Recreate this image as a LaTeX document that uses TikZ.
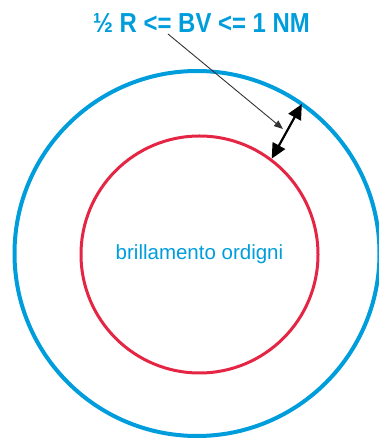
\documentclass[tikz,border=0pt]{standalone}
\usepackage{fontspec}
\setmainfont{Liberation Sans}
\newfontfamily\narrowfont[FakeStretch=0.87]{Liberation Sans}
\usetikzlibrary{arrows.meta}
\definecolor{zonablu}{RGB}{0,157,220}
\definecolor{zonarossa}{RGB}{228,38,68}

\begin{document}
\begin{tikzpicture}[x=1pt,y=1pt,
    ring/.style={circle,draw,inner sep=0pt},
    leader/.style={gray!40!black,line width=0.9pt,-{Triangle[length=9pt,width=7pt]}},
    span/.style={line width=2.2pt,{Triangle[length=15pt,width=14pt]}-{Triangle[length=15pt,width=14pt]}}]
  \useasboundingbox (0,0) rectangle (379,439);
  \node[ring,draw=zonablu,line width=4pt,minimum size=365pt] (outer) at (197,185.5) {};
  \node[ring,draw=zonarossa,line width=3pt,minimum size=237pt,text=zonablu,
        font=\fontsize{20.5}{24}\selectfont] (inner) at (199.5,184.5) {brillamento ordigni};
  \node[text=zonablu,font=\narrowfont\bfseries\fontsize{27.5}{30}\selectfont] (title) at (201.5,416) {½ R <= BV <= 1 NM};
  % leader from the title to the gap
  \coordinate (lead) at (168,405);
  \coordinate (tip) at (283,310);
  \draw[leader] (lead) -- (tip);
  % width of the buffer band
  \draw[span,shorten >=2pt] (inner.53) -- (outer.55);
\end{tikzpicture}
\end{document}
